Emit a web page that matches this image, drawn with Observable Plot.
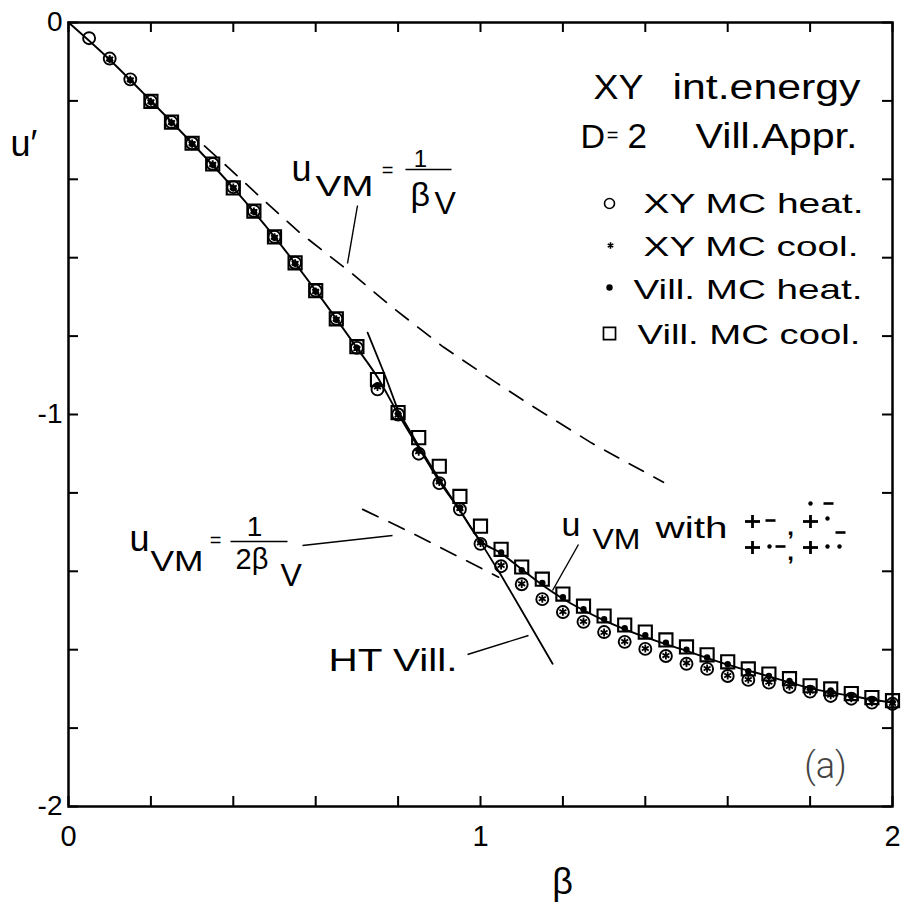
<!DOCTYPE html>
<html><head><meta charset="utf-8">
<script src="https://cdn.jsdelivr.net/npm/d3@7"></script>
<script src="https://cdn.jsdelivr.net/npm/@observablehq/plot@0.6"></script>
<style>body{margin:0;background:#fff}</style>
</head><body><div id="chart"></div>
<script>
// ---- data ----
const beta = [0.05,0.10,0.15,0.20,0.25,0.30,0.35,0.40,0.45,0.50,0.55,0.60,0.65,0.70,0.75,0.80,0.85,0.90,0.95,1.00,
              1.05,1.10,1.15,1.20,1.25,1.30,1.35,1.40,1.45,1.50,1.55,1.60,1.65,1.70,1.75,1.80,1.85,1.90,1.95,2.00];
const uXYheat = [-0.040,-0.092,-0.145,-0.201,-0.254,-0.308,-0.361,-0.420,-0.481,-0.547,-0.613,-0.684,-0.756,-0.830,-0.936,-1.000,-1.100,-1.175,-1.242,-1.330,
                 -1.387,-1.433,-1.471,-1.504,-1.529,-1.555,-1.580,-1.598,-1.616,-1.636,-1.649,-1.667,-1.677,-1.684,-1.695,-1.707,-1.718,-1.725,-1.735,-1.738];
const uXYcool = [null,-0.093,-0.146,-0.202,-0.255,-0.309,-0.362,-0.421,-0.482,-0.548,-0.614,-0.686,-0.757,-0.832,-0.930,-1.002,-1.095,-1.172,-1.240,-1.328,
                 -1.385,-1.432,-1.470,-1.503,-1.528,-1.556,-1.579,-1.597,-1.615,-1.634,-1.648,-1.666,-1.676,-1.683,-1.694,-1.706,-1.716,-1.724,-1.734,-1.737];
const uVillHeat = [null,-0.094,-0.147,-0.203,-0.256,-0.310,-0.363,-0.423,-0.483,-0.549,-0.615,-0.686,-0.758,-0.830,-0.925,-0.998,-1.092,-1.170,-1.238,-1.325,
                   -1.352,-1.397,-1.430,-1.466,-1.497,-1.522,-1.545,-1.563,-1.582,-1.600,-1.620,-1.637,-1.655,-1.667,-1.680,-1.698,-1.704,-1.716,-1.726,-1.733];
const uVillCool = [null,null,null,-0.201,-0.254,-0.308,-0.361,-0.422,-0.481,-0.547,-0.613,-0.684,-0.756,-0.827,-0.911,-0.995,-1.059,-1.132,-1.209,-1.285,
                   -1.344,-1.389,-1.420,-1.458,-1.489,-1.514,-1.537,-1.555,-1.575,-1.593,-1.613,-1.631,-1.649,-1.662,-1.674,-1.692,-1.700,-1.712,-1.722,-1.730];

// u_VM with vortex configurations (solid curve)
const curveBeta = [0,0.1,0.2,0.3,0.4,0.5,0.6,0.7,0.75,0.8,0.85,0.9,0.95,1.0,1.05,1.1,1.15,1.2,1.3,1.4,1.5,1.6,1.7,1.8,1.9,2.0];
const curveU    = [0,-0.095,-0.2,-0.308,-0.422,-0.547,-0.684,-0.83,-0.905,-0.998,-1.085,-1.17,-1.245,-1.322,-1.354,-1.395,-1.435,-1.47,-1.525,-1.568,-1.603,-1.638,-1.668,-1.698,-1.718,-1.735];
// HT Vill. (solid)
const htBeta = [0.726,0.77,0.8,0.85,0.9,0.95,1.0,1.05,1.1,1.175];
const htU    = [-0.791,-0.905,-0.99,-1.08,-1.165,-1.245,-1.325,-1.41,-1.50,-1.636];
// u_VM = 1/beta_V (dashed)
const vm1Beta = [0.33,0.39,0.47,0.56,0.69,0.79,0.91,1.04,1.11,1.27,1.444];
const vm1U    = [-0.315,-0.372,-0.45,-0.535,-0.642,-0.73,-0.828,-0.92,-0.968,-1.073,-1.173];
// u_VM = 1/(2 beta_V) (dashed)
const vm2Beta = [0.714,0.80,0.88,0.96,1.044];
const vm2U    = [-1.242,-1.285,-1.327,-1.37,-1.415];

const xTicks = [0,0.2,0.4,0.6,0.8,1.0,1.2,1.4,1.6,1.8,2.0];
const yTicks = [0,-0.2,-0.4,-0.6,-0.8,-1.0,-1.2,-1.4,-1.6,-1.8,-2.0];
const xTickLabels = ["0","1","2"];
const yTickLabels = ["0","-1","-2"];

// ---- helpers ----
const series = (xs, ys) => xs.map((b, i) => ({beta: b, u: ys[i]})).filter(d => d.u != null);
const W = 902, H = 906, ML = 68, MR = 10, MT = 22, MB = 100;
const X = px => (px - ML) / ((W - ML - MR) / 2);
const Y = py => -(py - MT) / ((H - MT - MB) / 2);
const FONT = "Liberation Sans, Arial, Helvetica, sans-serif";
function label(t, px, py, size, o = {}) {
  return Plot.text([t], {x: X(px), y: Y(py), text: d => d, fontSize: size, lineAnchor: o.line ?? "bottom",
    textAnchor: o.anchor ?? "start", fill: o.fill ?? "black", fontWeight: o.weight ?? "normal", fontFamily: o.family ?? FONT});
}
function seg(px1, py1, px2, py2, w = 1.4) {
  return Plot.link([0], {x1: X(px1), y1: Y(py1), x2: X(px2), y2: Y(py2), stroke: "black", strokeWidth: w});
}
const plus = (a, b) => [seg(a - 7.5, b, a + 7.5, b, 2.8), seg(a, b - 6.5, a, b + 6.5, 2.8)];
const tkY = 10 / ((H - MT - MB) / 2), tkX = 10 / ((W - ML - MR) / 2);

const marks = [
  Plot.frame({stroke: "black", strokeWidth: 2.5}),
  Plot.ruleX(xTicks, {x: d => d, y1: -2, y2: -2 + tkY, stroke: "black", strokeWidth: 2}),
  Plot.ruleX(xTicks, {x: d => d, y1: 0, y2: -tkY, stroke: "black", strokeWidth: 2}),
  Plot.ruleY(yTicks, {y: d => d, x1: 0, x2: tkX, stroke: "black", strokeWidth: 2}),
  Plot.ruleY(yTicks, {y: d => d, x1: 2, x2: 2 - tkX, stroke: "black", strokeWidth: 2}),
  Plot.text(yTickLabels, {x: 0, y: d => +d, text: d => d, dx: -6, textAnchor: "end", lineAnchor: "middle", fontSize: 28, fontFamily: FONT}),
  Plot.text(xTickLabels, {x: d => +d, y: -2, text: d => d, dy: 39, textAnchor: "middle", lineAnchor: "bottom", fontSize: 29, fontFamily: FONT}),

  // curves
  Plot.line(series(vm1Beta, vm1U), {x: "beta", y: "u", stroke: "black", strokeWidth: 1.7, strokeDasharray: "16,12"}),
  Plot.line(series(vm2Beta, vm2U), {x: "beta", y: "u", stroke: "black", strokeWidth: 1.7, strokeDasharray: "17,12"}),
  Plot.line(series(htBeta, htU), {x: "beta", y: "u", stroke: "black", strokeWidth: 1.8}),
  Plot.line(series(curveBeta, curveU), {x: "beta", y: "u", stroke: "black", strokeWidth: 1.9, curve: "monotone-x"}),

  // MC data
  Plot.dot(series(beta, uVillCool), {x: "beta", y: "u", symbol: "square", r: 7.4, stroke: "black", strokeWidth: 2.1, fill: "none"}),
  Plot.dot(series(beta, uXYheat), {x: "beta", y: "u", symbol: "circle", r: 6, stroke: "black", strokeWidth: 1.9, fill: "none"}),
  Plot.dot(series(beta, uXYcool), {x: "beta", y: "u", symbol: "asterisk", r: 3.8, stroke: "black", strokeWidth: 1.8}),
  Plot.dot(series(beta, uVillHeat), {x: "beta", y: "u", symbol: "circle", r: 3.2, fill: "black", stroke: "none"}),

  // title block
  label("XY", 593, 98, 35),
  label("int.energy", 672, 98, 35),
  label("D", 580, 147, 34),
  label("=", 612, 141, 20, {anchor: "middle"}),
  label("2", 627, 147, 35),
  label("Vill.Appr.", 695, 147, 35),

  // legend
  Plot.dot([0], {x: X(609), y: Y(203), symbol: "circle", r: 5, stroke: "black", strokeWidth: 1.6, fill: "none"}),
  Plot.dot([0], {x: X(610), y: Y(245), symbol: "asterisk", r: 3, stroke: "black", strokeWidth: 1.6}),
  Plot.dot([0], {x: X(609), y: Y(287), symbol: "circle", r: 3.2, fill: "black"}),
  Plot.dot([0], {x: X(609), y: Y(333), symbol: "square", r: 6.8, stroke: "black", strokeWidth: 1.7, fill: "none"}),
  label("XY MC heat.", 643, 212, 28),
  label("XY MC cool.", 643, 255, 28),
  label("Vill. MC heat.", 633, 298, 28),
  label("Vill. MC cool.", 637, 343, 28),

  // u_VM = 1/beta_V
  label("u", 291, 180, 36),
  label("VM", 315, 195, 29),
  label("=", 387, 176, 20, {anchor: "middle"}),
  label("1", 420, 166, 24, {anchor: "middle"}),
  seg(405, 169, 451, 169, 1.6),
  label("β", 410, 205, 34),
  label("V", 434, 213, 32),
  seg(357, 205, 347, 263),

  // u_VM = 1/(2 beta_V)
  label("u", 129, 550, 36),
  label("VM", 150, 570, 29),
  label("=", 215, 546, 20, {anchor: "middle"}),
  label("1", 254, 535, 28, {anchor: "middle"}),
  seg(230, 541, 287, 541, 1.6),
  label("2β", 235, 568, 29),
  label("V", 280, 585, 32),
  seg(302, 545, 392, 535),

  // HT Vill.
  label("HT Vill.", 328, 670, 32),
  seg(467, 654, 528, 635),

  // u_VM with ...
  label("u", 561, 535, 34),
  label("VM", 592, 548, 29),
  label("with", 655, 537, 30),
  seg(578, 544, 552, 590),
  // vortex configuration glyphs: + - , + : -   /   + . - , + . .
  ...plus(752, 521), ...plus(810, 521), ...plus(752, 547), ...plus(810, 547),
  ...[[790,527],[790,552]].map(([a,b]) => label(",", a, b, 24, {anchor: "middle", line: "middle", weight: "bold"})),
  Plot.dot([[810,503],[827,518],[769,546],[827,546],[839,546]], {x: d => X(d[0]), y: d => Y(d[1]), r: 2.2, fill: "black"}),
  ...[[770,520],[828,503],[840,532],[780,546]].map(([a,b]) => seg(a - 5, b, a + 5, b, 2.6)),

  // axis titles & panel tag
  label("u′", 10, 155, 36),
  label("β", 562, 893, 36, {anchor: "middle"}),
  label("(a)", 825, 777, 36, {anchor: "middle", fill: "#444", weight: 300, family: "Roboto, Liberation Sans, sans-serif"})
];

const svg = Plot.plot({
  width: W, height: H, marginLeft: ML, marginRight: MR, marginTop: MT, marginBottom: MB,
  x: {domain: [0, 2], axis: null},
  y: {domain: [-2, 0], axis: null},
  style: {fontFamily: FONT, background: "white"},
  marks
});

// widen the broad, wide-set lettering of the reference to its measured widths
const fit = {"XY": [50], "int.energy": [188], "Vill.Appr.": [162],
  "XY MC heat.": [220], "XY MC cool.": [215], "Vill. MC heat.": [229], "Vill. MC cool.": [223],
  "HT Vill.": [129], "with": [72], "VM": [58, 53, 48]};
svg.querySelectorAll("text").forEach(t => {
  const k = t.textContent;
  if (fit[k] && fit[k].length) {
    t.setAttribute("textLength", fit[k].shift());
    t.setAttribute("lengthAdjust", "spacingAndGlyphs");
  }
});
document.getElementById("chart").appendChild(svg);
</script>
</body></html>
